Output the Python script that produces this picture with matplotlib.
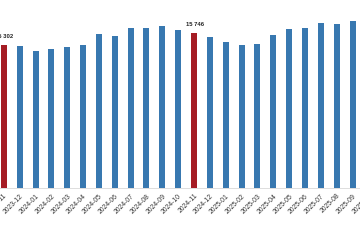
import matplotlib
matplotlib.use("Agg")
import matplotlib.pyplot as plt

plt.rcParams["font.family"] = ["Liberation Sans", "DejaVu Sans"]

months = ["2023-11", "2023-12", "2024-01", "2024-02", "2024-03", "2024-04",
          "2024-05", "2024-06", "2024-07", "2024-08", "2024-09", "2024-10",
          "2024-11", "2024-12", "2025-01", "2025-02", "2025-03", "2025-04",
          "2025-05", "2025-06", "2025-07", "2025-08", "2025-09", "2025-10"]
values = [15302, 15240, 15077, 15140, 15225, 15277,
          15694, 15609, 15904, 15900, 15978, 15852,
          15746, 15583, 15410, 15300, 15314, 15657,
          15878, 15926, 16100, 16074, 16173, 16062]
highlight = ["2023-11", "2024-11", "2025-10"]

BLUE = "#3878b0"
RED = "#a51c24"

fig = plt.figure(figsize=(3.6, 2.5), dpi=100)
# axes extends slightly beyond the figure (cropped look)
ax = fig.add_axes([-0.0114, 0.2468, 1.0567, 0.759])
x = list(range(len(months)))
colors = [RED if m in highlight else BLUE for m in months]
ax.bar(x, values, width=0.38, color=colors, zorder=2)
ax.set_xlim(-0.5, len(months) - 0.5)
ax.set_ylim(10000, 17000)

for i, (m, v) in enumerate(zip(months, values)):
    if m in highlight:
        lab = f"{v:,}".replace(",", " ")
        ax.annotate(lab, (i, v), xytext=(0.5, 4), textcoords="offset points",
                    ha="center", va="bottom", fontsize=4.2,
                    color="#222222", fontweight="bold", annotation_clip=False)

ax.set_xticks(x)
ax.set_xticklabels(months, rotation=45, ha="right", rotation_mode="anchor",
                   fontsize=4.9, color="#333333")
ax.tick_params(axis="x", length=0, pad=3)
ax.set_yticks([])
for s in ["top", "right", "left"]:
    ax.spines[s].set_visible(False)
ax.spines["bottom"].set_color("#d8d8d8")
ax.spines["bottom"].set_linewidth(0.6)

fig.savefig("out.png", dpi=100)
